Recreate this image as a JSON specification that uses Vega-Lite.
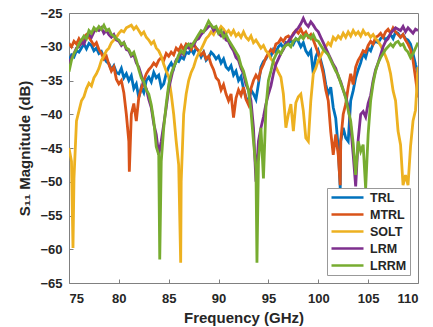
{
"$schema": "https://vega.github.io/schema/vega-lite/v6.json",
"width": 349, "height": 270,
"autosize": {"type": "none"},
"padding": {"left": 69, "top": 13, "right": 15, "bottom": 44},
"background": "white",
"config": {
  "view": {"stroke": "#808080", "strokeWidth": 1},
  "font": "Liberation Sans",
  "axis": {"labelFont": "Liberation Sans", "labelFontSize": 13, "labelFontWeight": "bold", "labelColor": "#262626",
           "titleFont": "Liberation Sans", "titleFontSize": 15, "titleFontWeight": "bold", "titleColor": "#262626",
           "grid": false, "domain": false, "ticks": true, "tickSize": -4, "tickColor": "#808080"}
},
"data": {"values": [
{"f":75.00,"TRL":-32,"MTRL":-29.5,"SOLT":-45,"LRM":-32.5,"LRRM":-33.7},
{"f":75.25,"TRL":-31.2,"MTRL":-30,"SOLT":-47,"LRM":-31.6,"LRRM":-32},
{"f":75.4,"SOLT":-59.8},
{"f":75.50,"TRL":-31.5,"MTRL":-29.2,"SOLT":-49.5,"LRM":-31,"LRRM":-31},
{"f":75.75,"TRL":-30.6,"MTRL":-29.6,"SOLT":-41,"LRM":-30.2,"LRRM":-30.4},
{"f":76.00,"TRL":-30.8,"MTRL":-28.8,"SOLT":-39.5,"LRM":-30,"LRRM":-29.6},
{"f":76.25,"TRL":-30.2,"MTRL":-29.4,"SOLT":-38,"LRM":-29.2,"LRRM":-29},
{"f":76.50,"TRL":-29.6,"MTRL":-28.6,"SOLT":-37.4,"LRM":-29.6,"LRRM":-28.4},
{"f":76.75,"TRL":-30.3,"MTRL":-28.2,"SOLT":-36.2,"LRM":-28.6,"LRRM":-28.8},
{"f":77.00,"TRL":-29.5,"MTRL":-28.6,"SOLT":-35.4,"LRM":-28.2,"LRRM":-27.6},
{"f":77.25,"TRL":-29.8,"MTRL":-29.2,"SOLT":-35.8,"LRM":-28.6,"LRRM":-28},
{"f":77.50,"TRL":-30.6,"MTRL":-29.8,"SOLT":-34.6,"LRM":-27.8,"LRRM":-27.2},
{"f":77.75,"TRL":-30.2,"MTRL":-29.4,"SOLT":-34,"LRM":-27.4,"LRRM":-27.6},
{"f":78.00,"TRL":-31,"MTRL":-30.4,"SOLT":-33.2,"LRM":-27.6,"LRRM":-27},
{"f":78.25,"TRL":-30.7,"MTRL":-31,"SOLT":-32,"LRM":-27.2,"LRRM":-27.4},
{"f":78.50,"TRL":-31.6,"MTRL":-31.8,"SOLT":-31.4,"LRM":-28,"LRRM":-26.8},
{"f":78.75,"TRL":-32.2,"MTRL":-31.4,"SOLT":-30.6,"LRM":-27.6,"LRRM":-27.6},
{"f":79.00,"TRL":-32.5,"MTRL":-32.6,"SOLT":-30.2,"LRM":-28.2,"LRRM":-27.4},
{"f":79.25,"TRL":-33.4,"MTRL":-33.6,"SOLT":-29.4,"LRM":-28.6,"LRRM":-28.2},
{"f":79.50,"TRL":-32.8,"MTRL":-33,"SOLT":-29,"LRM":-28.2,"LRRM":-28.4},
{"f":79.75,"TRL":-33.8,"MTRL":-34.8,"SOLT":-28.6,"LRM":-29,"LRRM":-28.8},
{"f":80.00,"TRL":-34,"MTRL":-35.5,"SOLT":-28,"LRM":-29.2,"LRRM":-29},
{"f":80.25,"TRL":-33.2,"MTRL":-35,"SOLT":-27.6,"LRM":-29.8,"LRRM":-29.6},
{"f":80.50,"TRL":-34.6,"MTRL":-36.8,"SOLT":-27.8,"LRM":-29.4,"LRRM":-29.4},
{"f":80.75,"TRL":-34,"MTRL":-40,"SOLT":-27.2,"LRM":-30.4,"LRRM":-30.2},
{"f":81.00,"TRL":-35,"MTRL":-44,"SOLT":-27,"LRM":-30.6,"LRRM":-30.4},
{"f":81.05,"MTRL":-48.5},
{"f":81.25,"TRL":-34.3,"MTRL":-40,"SOLT":-26.8,"LRM":-31.4,"LRRM":-31.2},
{"f":81.50,"TRL":-36.2,"MTRL":-38.4,"SOLT":-27.4,"LRM":-31.2,"LRRM":-30.8},
{"f":81.75,"TRL":-35.5,"MTRL":-41,"SOLT":-27,"LRM":-32.4,"LRRM":-32},
{"f":82.00,"TRL":-37.5,"MTRL":-37.5,"SOLT":-27.6,"LRM":-33,"LRRM":-33.4},
{"f":82.25,"TRL":-36,"MTRL":-36.2,"SOLT":-28.2,"LRM":-34.2,"LRRM":-34.6},
{"f":82.50,"TRL":-36.8,"MTRL":-35,"SOLT":-27.8,"LRM":-35.6,"LRRM":-35.2},
{"f":82.75,"TRL":-35,"MTRL":-34,"SOLT":-28.6,"LRM":-36.2,"LRRM":-36.4},
{"f":83.00,"TRL":-34.5,"MTRL":-33.4,"SOLT":-29,"LRM":-37.8,"LRRM":-37},
{"f":83.25,"TRL":-35.2,"MTRL":-33,"SOLT":-29.6,"LRM":-39,"LRRM":-38.6},
{"f":83.50,"TRL":-33.8,"MTRL":-32.4,"SOLT":-29.2,"LRM":-41.4,"LRRM":-41},
{"f":83.75,"TRL":-34.6,"MTRL":-32.8,"SOLT":-30.2,"LRM":-43,"LRRM":-44.8},
{"f":84.00,"TRL":-34.2,"MTRL":-32,"SOLT":-30.6,"LRM":-46,"LRRM":-46},
{"f":84.10,"LRRM":-61.5},
{"f":84.25,"TRL":-36,"MTRL":-31.6,"SOLT":-31.4,"LRM":-44,"LRRM":-47},
{"f":84.50,"TRL":-35.5,"MTRL":-32,"SOLT":-32.6,"LRM":-41.5,"LRRM":-42},
{"f":84.75,"TRL":-34,"MTRL":-31,"SOLT":-33.6,"LRM":-39,"LRRM":-38.5},
{"f":85.00,"TRL":-33,"MTRL":-31.4,"SOLT":-34.5,"LRM":-36.2,"LRRM":-35.6},
{"f":85.25,"TRL":-32.4,"MTRL":-30.8,"SOLT":-37,"LRM":-34.6,"LRRM":-34},
{"f":85.50,"TRL":-33.2,"MTRL":-31.2,"SOLT":-40,"LRM":-33,"LRRM":-33},
{"f":85.75,"TRL":-32,"MTRL":-30.2,"SOLT":-44,"LRM":-32,"LRRM":-32.2},
{"f":86.00,"TRL":-32.2,"MTRL":-30.6,"SOLT":-47.5,"LRM":-31.6,"LRRM":-31.2},
{"f":86.20,"SOLT":-62},
{"f":86.25,"TRL":-31.5,"MTRL":-29.8,"SOLT":-50,"LRM":-30.8,"LRRM":-30.6},
{"f":86.50,"TRL":-31.8,"MTRL":-30.4,"SOLT":-40,"LRM":-31.2,"LRRM":-31},
{"f":86.75,"TRL":-30.8,"MTRL":-29.6,"SOLT":-37,"LRM":-30,"LRRM":-30},
{"f":87.00,"TRL":-31,"MTRL":-29.8,"SOLT":-35,"LRM":-30.2,"LRRM":-29.6},
{"f":87.25,"TRL":-30.4,"MTRL":-30.4,"SOLT":-33.8,"LRM":-29.6,"LRRM":-30},
{"f":87.50,"TRL":-31,"MTRL":-29.6,"SOLT":-33,"LRM":-29.8,"LRRM":-29.4},
{"f":87.75,"TRL":-30.2,"MTRL":-30.2,"SOLT":-31.8,"LRM":-29,"LRRM":-28.8},
{"f":88.00,"TRL":-30.6,"MTRL":-30.6,"SOLT":-31,"LRM":-28.8,"LRRM":-28.2},
{"f":88.25,"TRL":-31.5,"MTRL":-31.2,"SOLT":-30.4,"LRM":-28.2,"LRRM":-27.6},
{"f":88.50,"TRL":-30.8,"MTRL":-30.8,"SOLT":-29.6,"LRM":-27.8,"LRRM":-27.8},
{"f":88.75,"TRL":-32,"MTRL":-31.8,"SOLT":-28.8,"LRM":-27.4,"LRRM":-27},
{"f":89.00,"TRL":-31.6,"MTRL":-31.4,"SOLT":-28.4,"LRM":-27,"LRRM":-26.2},
{"f":89.25,"TRL":-30.8,"MTRL":-32.6,"SOLT":-27.8,"LRM":-26.8,"LRRM":-26.8},
{"f":89.50,"TRL":-31.2,"MTRL":-33.4,"SOLT":-28.2,"LRM":-27.6,"LRRM":-27.2},
{"f":89.75,"TRL":-31.8,"MTRL":-34.6,"SOLT":-27.4,"LRM":-27.2,"LRRM":-27},
{"f":90.00,"TRL":-31.4,"MTRL":-35,"SOLT":-27.6,"LRM":-28,"LRRM":-28},
{"f":90.25,"TRL":-32.4,"MTRL":-36.4,"SOLT":-27,"LRM":-28.4,"LRRM":-27.6},
{"f":90.50,"TRL":-31.8,"MTRL":-35.6,"SOLT":-27.4,"LRM":-28,"LRRM":-28.6},
{"f":90.75,"TRL":-33,"MTRL":-37,"SOLT":-28,"LRM":-29,"LRRM":-28.2},
{"f":91.00,"TRL":-33.4,"MTRL":-38,"SOLT":-27.6,"LRM":-29.2,"LRRM":-29},
{"f":91.25,"TRL":-32.8,"MTRL":-37,"SOLT":-28.2,"LRM":-30,"LRRM":-29.6},
{"f":91.50,"TRL":-34.2,"MTRL":-40.5,"SOLT":-27.6,"LRM":-30.6,"LRRM":-30.2},
{"f":91.75,"TRL":-33.6,"MTRL":-37.6,"SOLT":-28.4,"LRM":-31.6,"LRRM":-30.8},
{"f":92.00,"TRL":-35,"MTRL":-36.4,"SOLT":-28,"LRM":-32,"LRRM":-31.4},
{"f":92.25,"TRL":-34.4,"MTRL":-37.2,"SOLT":-28.6,"LRM":-33.2,"LRRM":-32.8},
{"f":92.50,"TRL":-36.2,"MTRL":-36,"SOLT":-27.8,"LRM":-34,"LRRM":-33.6},
{"f":92.75,"TRL":-37.5,"MTRL":-37.8,"SOLT":-28.6,"LRM":-35.6,"LRRM":-35},
{"f":93.00,"TRL":-38.2,"MTRL":-38.6,"SOLT":-29,"LRM":-36.4,"LRRM":-36.5},
{"f":93.25,"TRL":-36.4,"MTRL":-36.2,"SOLT":-28.4,"LRM":-38,"LRRM":-39.5},
{"f":93.50,"TRL":-37,"MTRL":-35,"SOLT":-29.4,"LRM":-42,"LRRM":-44},
{"f":93.75,"TRL":-37.8,"MTRL":-34.2,"SOLT":-29,"LRM":-50,"LRRM":-48},
{"f":93.85,"LRRM":-62},
{"f":94.00,"TRL":-35.5,"MTRL":-34.8,"SOLT":-29.6,"LRM":-44,"LRRM":-47},
{"f":94.25,"TRL":-33,"MTRL":-33.4,"SOLT":-30.2,"LRM":-42,"LRRM":-42},
{"f":94.50,"TRL":-32.2,"MTRL":-32.6,"SOLT":-29.8,"LRM":-40.4,"LRRM":-49.5},
{"f":94.75,"TRL":-31.8,"MTRL":-31.6,"SOLT":-30.6,"LRM":-38.5,"LRRM":-39},
{"f":95.00,"TRL":-31,"MTRL":-31,"SOLT":-31,"LRM":-37,"LRRM":-35},
{"f":95.25,"TRL":-31.4,"MTRL":-30.4,"SOLT":-31.8,"LRM":-35.8,"LRRM":-33.6},
{"f":95.50,"TRL":-30.4,"MTRL":-30.8,"SOLT":-32.2,"LRM":-34,"LRRM":-32},
{"f":95.75,"TRL":-30.8,"MTRL":-29.6,"SOLT":-33,"LRM":-32.6,"LRRM":-31.2},
{"f":96.00,"TRL":-30,"MTRL":-29.4,"SOLT":-33.8,"LRM":-31.8,"LRRM":-30.6},
{"f":96.25,"TRL":-29.6,"MTRL":-28.8,"SOLT":-34.5,"LRM":-31,"LRRM":-31},
{"f":96.50,"TRL":-30.2,"MTRL":-29.2,"SOLT":-37,"LRM":-30.4,"LRRM":-30.2},
{"f":96.75,"TRL":-29.4,"MTRL":-28.6,"SOLT":-42,"LRM":-29.6,"LRRM":-29.8},
{"f":97.00,"TRL":-29.6,"MTRL":-28.4,"SOLT":-40,"LRM":-29.2,"LRRM":-29.6},
{"f":97.25,"TRL":-29,"MTRL":-28.8,"SOLT":-38.5,"LRM":-28.6,"LRRM":-30},
{"f":97.50,"TRL":-29.6,"MTRL":-28,"SOLT":-42.5,"LRM":-28.2,"LRRM":-29.2},
{"f":97.75,"TRL":-28.8,"MTRL":-27.6,"SOLT":-38.3,"LRM":-27.6,"LRRM":-28.8},
{"f":98.00,"TRL":-29.2,"MTRL":-28,"SOLT":-37.4,"LRM":-27.2,"LRRM":-29},
{"f":98.25,"TRL":-30,"MTRL":-27.4,"SOLT":-37,"LRM":-26.6,"LRRM":-28.4},
{"f":98.50,"TRL":-29.4,"MTRL":-28.2,"SOLT":-39.5,"LRM":-25.8,"LRRM":-28.8},
{"f":98.75,"TRL":-30.6,"MTRL":-27.8,"SOLT":-43.5,"LRM":-26.6,"LRRM":-28.2},
{"f":99.00,"TRL":-31.2,"MTRL":-28.6,"SOLT":-44,"LRM":-27,"LRRM":-28.4},
{"f":99.25,"TRL":-30.6,"MTRL":-28.2,"SOLT":-38,"LRM":-26.3,"LRRM":-28.8},
{"f":99.50,"TRL":-34,"MTRL":-29,"SOLT":-34,"LRM":-26.8,"LRRM":-28.2},
{"f":99.75,"TRL":-31.5,"MTRL":-30,"SOLT":-33.2,"LRM":-27.4,"LRRM":-29},
{"f":100.00,"TRL":-30.6,"MTRL":-31,"SOLT":-32,"LRM":-27.8,"LRRM":-29.2},
{"f":100.25,"TRL":-32,"MTRL":-32.4,"SOLT":-31.4,"LRM":-28.6,"LRRM":-29.8},
{"f":100.50,"TRL":-33.4,"MTRL":-34,"SOLT":-30.6,"LRM":-29.4,"LRRM":-30.4},
{"f":100.75,"TRL":-35.6,"MTRL":-36.4,"SOLT":-30,"LRM":-30.2,"LRRM":-30.8},
{"f":101.00,"TRL":-37,"MTRL":-38,"SOLT":-29.4,"LRM":-31,"LRRM":-31.2},
{"f":101.25,"TRL":-36,"MTRL":-42.6,"SOLT":-29.8,"LRM":-31.8,"LRRM":-32},
{"f":101.50,"TRL":-39,"MTRL":-46,"SOLT":-28.6,"LRM":-32.6,"LRRM":-32.8},
{"f":101.75,"TRL":-40.6,"MTRL":-43,"SOLT":-29,"LRM":-33.2,"LRRM":-33.6},
{"f":102.00,"TRL":-45,"MTRL":-46,"SOLT":-28.4,"LRM":-34.4,"LRRM":-34.2},
{"f":102.20,"TRL":-51,"MTRL":-50.5},
{"f":102.25,"TRL":-44,"MTRL":-44,"SOLT":-28.8,"LRM":-35.2,"LRRM":-35.4},
{"f":102.50,"TRL":-42,"MTRL":-40,"SOLT":-28,"LRM":-36.4,"LRRM":-36.4},
{"f":102.75,"TRL":-43.5,"MTRL":-38.5,"SOLT":-28.6,"LRM":-37.4,"LRRM":-37.6},
{"f":103.00,"TRL":-44,"MTRL":-36,"SOLT":-27.8,"LRM":-38.8,"LRRM":-39.4},
{"f":103.25,"TRL":-38,"MTRL":-34,"SOLT":-28.4,"LRM":-41.8,"LRRM":-41},
{"f":103.50,"TRL":-36.5,"MTRL":-35.6,"SOLT":-27.6,"LRM":-46,"LRRM":-44.3},
{"f":103.75,"TRL":-34.6,"MTRL":-33,"SOLT":-28.2,"LRM":-50.7,"LRRM":-49},
{"f":104.00,"TRL":-33.4,"MTRL":-32,"SOLT":-27.8,"LRM":-43.8,"LRRM":-44},
{"f":104.25,"TRL":-32.4,"MTRL":-31.4,"SOLT":-28.4,"LRM":-40,"LRRM":-45.5},
{"f":104.50,"TRL":-31,"MTRL":-30.6,"SOLT":-27.6,"LRM":-39.6,"LRRM":-44.5},
{"f":104.75,"TRL":-31.6,"MTRL":-30.8,"SOLT":-28.2,"LRM":-40.4,"LRRM":-51},
{"f":105.00,"TRL":-30.2,"MTRL":-29.8,"SOLT":-28,"LRM":-38.4,"LRRM":-43},
{"f":105.25,"TRL":-30.6,"MTRL":-29.2,"SOLT":-28.6,"LRM":-37.2,"LRRM":-38},
{"f":105.50,"TRL":-29.6,"MTRL":-29.6,"SOLT":-28.2,"LRM":-35,"LRRM":-35.4},
{"f":105.75,"TRL":-29.2,"MTRL":-28.6,"SOLT":-28.8,"LRM":-33.4,"LRRM":-33.6},
{"f":106.00,"TRL":-29.4,"MTRL":-28.4,"SOLT":-29.2,"LRM":-32.4,"LRRM":-32.4},
{"f":106.25,"TRL":-28.8,"MTRL":-28,"SOLT":-29.8,"LRM":-31.2,"LRRM":-31.6},
{"f":106.50,"TRL":-28.4,"MTRL":-28.6,"SOLT":-30.6,"LRM":-30,"LRRM":-31},
{"f":106.75,"TRL":-29,"MTRL":-27.8,"SOLT":-31.4,"LRM":-29.2,"LRRM":-30.4},
{"f":107.00,"TRL":-28.6,"MTRL":-27.4,"SOLT":-32.4,"LRM":-28.8,"LRRM":-30},
{"f":107.25,"TRL":-28.2,"MTRL":-28,"SOLT":-34,"LRM":-28,"LRRM":-29.6},
{"f":107.50,"TRL":-28.8,"MTRL":-27.2,"SOLT":-36.5,"LRM":-27.6,"LRRM":-30},
{"f":107.75,"TRL":-27.8,"MTRL":-27.8,"SOLT":-38,"LRM":-27.2,"LRRM":-29.4},
{"f":108.00,"TRL":-28,"MTRL":-28.2,"SOLT":-42.5,"LRM":-27.4,"LRRM":-29.2},
{"f":108.25,"TRL":-28.6,"MTRL":-28.6,"SOLT":-44.5,"LRM":-27.6,"LRRM":-29.8},
{"f":108.50,"TRL":-28.2,"MTRL":-28.2,"SOLT":-50.5,"LRM":-27,"LRRM":-29.6},
{"f":108.75,"TRL":-28.8,"MTRL":-29,"SOLT":-49,"LRM":-27.8,"LRRM":-30.4},
{"f":109.00,"TRL":-29,"MTRL":-29.6,"SOLT":-50.5,"LRM":-27.2,"LRRM":-30.8},
{"f":109.25,"TRL":-29.6,"MTRL":-30.4,"SOLT":-44.8,"LRM":-27.6,"LRRM":-31.6},
{"f":109.50,"TRL":-31,"MTRL":-32,"SOLT":-41,"LRM":-28,"LRRM":-31},
{"f":109.75,"TRL":-32.6,"MTRL":-34.6,"SOLT":-39.4,"LRM":-27.4,"LRRM":-30.2},
{"f":110.00,"TRL":-34,"MTRL":-37.5,"SOLT":-33,"LRM":-27.6,"LRRM":-29.4}
]},
"transform": [
  {"fold": ["TRL", "MTRL", "SOLT", "LRM", "LRRM"], "as": ["series", "v"]},
  {"filter": "isValid(datum.v)"}
],
"mark": {"type": "line", "strokeWidth": 2.8, "clip": true},
"encoding": {
  "x": {"field": "f", "type": "quantitative", "scale": {"domain": [75, 110], "nice": false},
        "axis": {"values": [75, 80, 85, 90, 95, 100, 105, 110], "title": "Frequency (GHz)", "labelPadding": 13, "titlePadding": 5}},
  "y": {"field": "v", "type": "quantitative", "scale": {"domain": [-65, -25], "nice": false},
        "axis": {"values": [-65, -60, -55, -50, -45, -40, -35, -30, -25], "title": "S₁₁ Magnitude (dB)", "labelPadding": 11, "titlePadding": 7}},
  "color": {"field": "series", "type": "nominal",
    "scale": {"domain": ["TRL", "MTRL", "SOLT", "LRM", "LRRM"], "range": ["#0072BD", "#D95319", "#EDB120", "#7E2F8E", "#77AC30"]},
    "legend": {"title": null, "orient": "bottom-right", "offset": 8, "padding": 3,
      "fillColor": "white", "strokeColor": "#999999",
      "symbolType": "M-1,0H5.4", "symbolSize": 100, "symbolStrokeWidth": 2.5, "symbolFillColor": "transparent",
      "labelOffset": 27, "labelFont": "Liberation Sans", "labelFontSize": 12.5, "labelFontWeight": "bold", "labelColor": "#262626",
      "rowPadding": 4}}
}
}
